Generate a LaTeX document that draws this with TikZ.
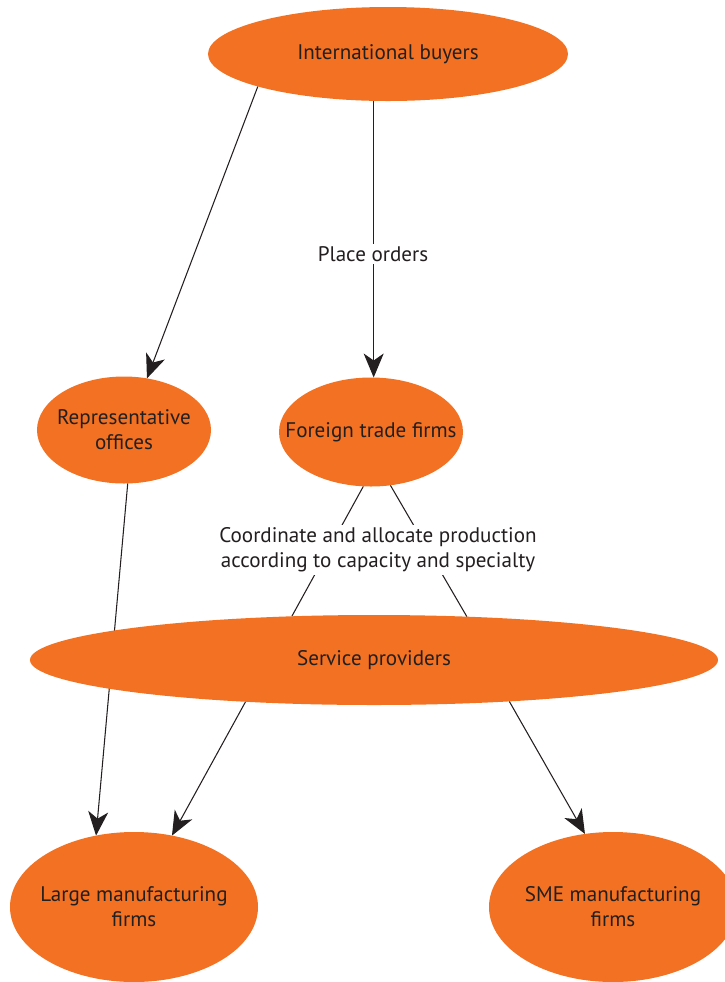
\documentclass[tikz,border=0pt]{standalone}
\usepackage{fontspec}
\setmainfont{PT Sans}
\usetikzlibrary{shapes.geometric,arrows.meta,backgrounds}
\definecolor{tangerine}{RGB}{242,113,34}
\definecolor{ink}{RGB}{35,31,32}
\begin{document}
\begin{tikzpicture}[x=0.2mm,y=-0.2mm,
		blob/.style={ellipse,fill=tangerine,inner sep=0pt,outer sep=0pt},
		every label/.style={text=ink,align=center,font=\fontsize{12}{14.2}\selectfont},
		link/.style={draw=ink,line width=0.6pt},
		flow/.style={link,-{Stealth[length=4.8mm,width=4mm,inset=1.4mm]}},
		note/.style={fill=white,text=ink,align=center,inner sep=1.5pt,font=\fontsize{12}{14.2}\selectfont}]
		\useasboundingbox (0,0) rectangle (725,982);
		\node[blob,minimum width=7.2cm,minimum height=1.88cm,label={center:International buyers}] (ib) at (388,54) {};
		\node[blob,minimum width=3.48cm,minimum height=2.14cm,label={center:Representative\\offices}] (rep) at (124,430) {};
		\node[blob,minimum width=3.68cm,minimum height=2.18cm,label={center:Foreign trade firms}] (ft) at (371,432) {};
		\node[blob,minimum width=13.76cm,minimum height=1.8cm,label={center:Service providers}] (sp) at (374,660) {};
		\node[blob,minimum width=4.96cm,minimum height=3cm,label={center:Large manufacturing\\firms}] (large) at (134,907) {};
		\node[blob,minimum width=4.96cm,minimum height=3cm,label={center:SME manufacturing\\firms}] (sme) at (613,907) {};
		\node[note] (orders) at (373,254) {Place orders};
		\node[note] (alloc) at (378,550) {Coordinate and allocate production\\according to capacity and specialty};
		\begin{scope}[on background layer]
			\draw[flow] (ib.253) -- (ib.253 |- ft.north);
			\draw[flow] (ib.194) -- (rep.66);
			\draw[flow] (rep.274) -- (large.118);
			\draw[flow] (sp.198) -- (large.62);
			\draw[flow] (sp.343) -- (sme.111);
			\draw[link] (ft.262) -- (sp.152);
			\draw[link] (ft.290) -- (sp.25);
		\end{scope}
\end{tikzpicture}
\end{document}
